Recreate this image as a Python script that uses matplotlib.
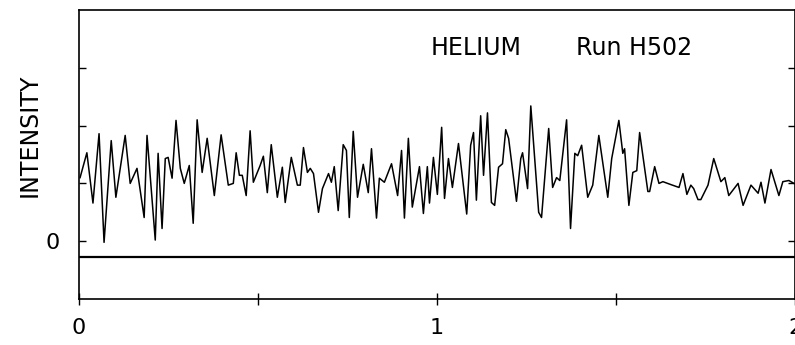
import matplotlib
matplotlib.use("Agg")
import matplotlib.pyplot as plt

# Helium scattering trace, run H502
x_vals = [0.003, 0.022, 0.039, 0.056, 0.070, 0.090, 0.103, 0.129, 0.143, 0.162,
          0.182, 0.190, 0.213, 0.221, 0.232, 0.241, 0.249, 0.260, 0.271, 0.283,
          0.294, 0.308, 0.319, 0.330, 0.344, 0.358, 0.378, 0.397, 0.417, 0.431,
          0.439, 0.448, 0.456, 0.467, 0.478, 0.487, 0.506, 0.515, 0.526, 0.537,
          0.554, 0.568, 0.576, 0.593, 0.610, 0.618, 0.627, 0.638, 0.646, 0.655,
          0.669, 0.680, 0.697, 0.705, 0.713, 0.724, 0.738, 0.747, 0.755, 0.766,
          0.778, 0.794, 0.808, 0.817, 0.831, 0.839, 0.853, 0.873, 0.890, 0.901,
          0.909, 0.920, 0.931, 0.951, 0.962, 0.973, 0.979, 0.990, 1.001, 1.013,
          1.021, 1.032, 1.043, 1.060, 1.083, 1.094, 1.102, 1.110, 1.122, 1.130,
          1.141, 1.152, 1.161, 1.172, 1.183, 1.192, 1.200, 1.222, 1.234, 1.239,
          1.253, 1.262, 1.284, 1.292, 1.312, 1.323, 1.334, 1.343, 1.362, 1.373,
          1.385, 1.393, 1.404, 1.421, 1.435, 1.452, 1.477, 1.488, 1.508, 1.519,
          1.524, 1.536, 1.547, 1.558, 1.566, 1.589, 1.594, 1.608, 1.620, 1.631,
          1.653, 1.676, 1.687, 1.698, 1.709, 1.717, 1.729, 1.737, 1.757, 1.773,
          1.793, 1.804, 1.815, 1.841, 1.855, 1.877, 1.897, 1.905, 1.916, 1.933,
          1.955, 1.966, 1.983, 1.997]
intensity = [1.10, 1.53, 0.66, 1.86, -0.02, 1.74, 0.76, 1.83, 1.00, 1.26,
             0.41, 1.83, 0.02, 1.52, 0.22, 1.43, 1.45, 1.09, 2.09, 1.26,
             1.00, 1.31, 0.31, 2.10, 1.19, 1.78, 0.79, 1.84, 0.97, 1.00,
             1.53, 1.14, 1.14, 0.79, 1.91, 1.02, 1.31, 1.47, 0.84, 1.67,
             0.76, 1.28, 0.67, 1.45, 0.97, 0.97, 1.62, 1.19, 1.26, 1.17,
             0.50, 0.91, 1.17, 1.02, 1.29, 0.53, 1.67, 1.57, 0.41, 1.90,
             0.76, 1.33, 0.84, 1.60, 0.40, 1.09, 1.02, 1.34, 0.79, 1.57,
             0.40, 1.78, 0.59, 1.29, 0.48, 1.29, 0.66, 1.45, 0.81, 1.97,
             0.74, 1.43, 0.93, 1.69, 0.47, 1.66, 1.88, 0.71, 2.17, 1.14,
             2.22, 0.67, 0.62, 1.28, 1.34, 1.93, 1.78, 0.69, 1.43, 1.53,
             0.91, 2.34, 0.50, 0.41, 1.95, 0.93, 1.10, 1.05, 2.10, 0.22,
             1.52, 1.48, 1.66, 0.76, 0.97, 1.83, 0.76, 1.43, 2.09, 1.52,
             1.60, 0.62, 1.19, 1.22, 1.88, 0.86, 0.86, 1.29, 1.00, 1.03,
             0.98, 0.93, 1.17, 0.81, 0.97, 0.91, 0.72, 0.72, 0.97, 1.43,
             1.03, 1.10, 0.79, 1.00, 0.62, 0.97, 0.83, 1.02, 0.66, 1.24,
             0.79, 1.03, 1.05, 1.00]

baseline_level = -0.276
x_ticks = [0, 0.5, 1, 1.5, 2]
x_tick_labels = ["0", "", "1", "", "2"]
y_ticks = [0, 1, 2, 3]
y_tick_labels = ["0", "", "", ""]

fig = plt.figure(figsize=(7.95, 3.45), dpi=100)
ax = fig.add_axes([79 / 795, 46 / 345, 716 / 795, 289 / 345])

ax.plot(x_vals, intensity, color="black", lw=1.1)
ax.axhline(baseline_level, color="black", lw=1.6)

ax.set_xlim(0, 2)
ax.set_ylim(-1, 4)

ax.set_xticks(x_ticks)
ax.set_xticklabels(x_tick_labels, fontsize=16)
ax.set_yticks(y_ticks)
ax.set_yticklabels(y_tick_labels, fontsize=16)
ax.tick_params(axis="x", direction="inout", length=8, width=1, pad=10)
ax.tick_params(axis="y", direction="in", length=5, width=1, pad=14,
               right=True)

for s in ax.spines.values():
    s.set_linewidth(1.2)

ax.text(0.491, 0.844, "HELIUM", transform=ax.transAxes, fontsize=17,
        ha="left", va="baseline")
ax.text(0.694, 0.844, "Run H502", transform=ax.transAxes, fontsize=17,
        ha="left", va="baseline")

fig.text(30 / 795, 1 - 135 / 345, "INTENSITY", rotation=90, fontsize=17,
         ha="center", va="center")

fig.savefig("out.png", dpi=100)
